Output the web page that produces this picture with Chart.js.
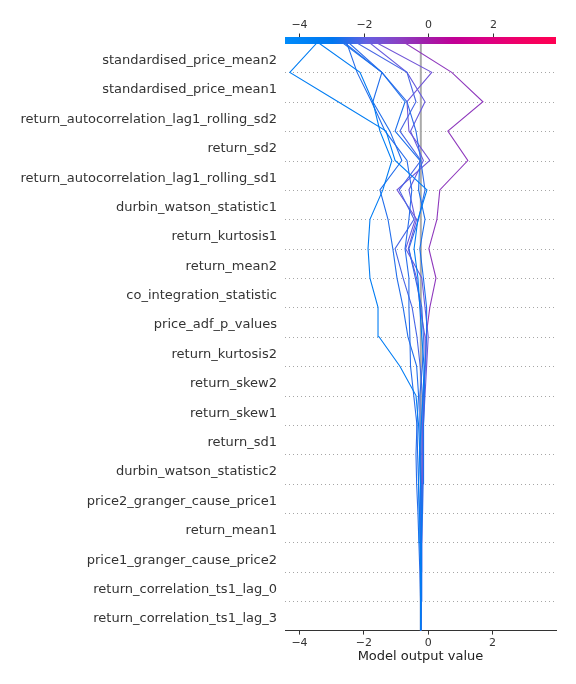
<!DOCTYPE html>
<html><head><meta charset="utf-8">
<script src="https://cdn.jsdelivr.net/npm/chart.js@4"></script>
<style>html,body{margin:0;padding:0;background:#fff}</style>
</head><body>
<div style="width:576px;height:684px"><canvas id="c" width="576" height="684"></canvas></div>
<script>
// Feature names, top to bottom
const featureNames = [
  "standardised_price_mean2",
  "standardised_price_mean1",
  "return_autocorrelation_lag1_rolling_sd2",
  "return_sd2",
  "return_autocorrelation_lag1_rolling_sd1",
  "durbin_watson_statistic1",
  "return_kurtosis1",
  "return_mean2",
  "co_integration_statistic",
  "price_adf_p_values",
  "return_kurtosis2",
  "return_skew2",
  "return_skew1",
  "return_sd1",
  "durbin_watson_statistic2",
  "price2_granger_cause_price1",
  "return_mean1",
  "price1_granger_cause_price2",
  "return_correlation_ts1_lag_0",
  "return_correlation_ts1_lag_3"
];
const baseValue = -0.23;
const xTicks = [-4, -2, 0, 2];
const xMin = -4.45, xMax = 3.97;

// Cumulative model output, from the base value (bottom) up to the prediction (top)
const lineA = [-0.23,-0.23,-0.24,-0.26,-0.28,-0.30,-0.27,-0.22,-0.16,-0.13,-0.20,-0.26,-0.32,-0.44,-0.32,-0.04,-1.03,-1.31,-2.80,-4.30,-3.46];
const lineB = [-0.23,-0.23,-0.22,-0.21,-0.22,-0.24,-0.26,-0.30,-0.38,-0.88,-1.53,-1.56,-1.81,-1.87,-1.81,-1.41,-1.13,-1.50,-1.72,-2.12,-3.40];
const lineC = [-0.23,-0.22,-0.21,-0.20,-0.18,-0.16,-0.15,-0.14,-0.12,-0.10,-0.05,-0.05,-0.15,-0.26,-0.10,-0.30,-0.26,-1.03,-0.72,-1.44,-2.65];
const lineD = [-0.23,-0.23,-0.24,-0.25,-0.27,-0.30,-0.33,-0.35,-0.30,-0.36,-0.63,-0.78,-0.97,-1.10,-1.25,-1.50,-0.82,-1.19,-1.72,-1.44,-2.59];
const lineE = [-0.23,-0.24,-0.26,-0.29,-0.32,-0.36,-0.38,-0.35,-0.45,-0.55,-0.57,-0.60,-0.60,-0.72,-0.60,-0.51,-0.66,-1.34,-1.76,-2.21,-2.53];
const lineF = [-0.23,-0.23,-0.22,-0.22,-0.21,-0.22,-0.24,-0.26,-0.26,-0.18,-0.15,-0.20,-0.40,-0.60,-0.30,-0.10,-0.23,-0.38,-0.66,-1.44,-2.46];
const lineG = [-0.23,-0.23,-0.23,-0.24,-0.24,-0.25,-0.22,-0.20,-0.18,-0.25,-0.35,-0.50,-0.78,-1.03,-0.44,-0.90,-0.23,-0.88,-0.38,-0.66,-2.21];
const lineH = [-0.23,-0.22,-0.21,-0.20,-0.19,-0.18,-0.17,-0.15,-0.10,-0.05,0.00,-0.10,-0.20,-0.70,-0.40,-0.60,-0.15,-0.55,-0.10,-0.66,-1.81];
const lineI = [-0.23,-0.23,-0.22,-0.21,-0.20,-0.19,-0.18,-0.17,-0.15,-0.10,-0.10,-0.25,-0.36,-0.62,-0.36,-0.97,0.05,-0.60,-0.66,0.11,-1.59];
const lineJ = [-0.23,-0.23,-0.23,-0.22,-0.21,-0.20,-0.18,-0.16,-0.13,-0.10,-0.07,0.05,0.24,0.02,0.27,0.36,1.23,0.61,1.70,0.73,-0.72];
const allLines = [lineA, lineB, lineC, lineD, lineE, lineF, lineG, lineH, lineI, lineJ];

// red-blue colour map
const cmapStops = [
  [0, [0,139,250]], [0.18, [0,118,240]], [0.3, [100,95,225]], [0.42, [138,65,195]],
  [0.52, [160,30,170]], [0.62, [192,0,150]], [0.75, [220,0,130]], [0.88, [242,0,100]], [1, [255,0,82]]
];
function cmap(t) {
  t = Math.max(0, Math.min(1, t));
  for (let i = 1; i < cmapStops.length; i++) {
    const [t1, c1] = cmapStops[i];
    const [t0, c0] = cmapStops[i-1];
    if (t <= t1) {
      const f = (t - t0) / (t1 - t0);
      const c = c0.map((v, k) => Math.round(v + (c1[k] - v) * f));
      return `rgb(${c[0]},${c[1]},${c[2]})`;
    }
  }
  return 'rgb(255,0,82)';
}
const fmt = v => (v < 0 ? '\u2212' : '') + Math.abs(v);
const N = featureNames.length;

const decor = {
  id: 'decor',
  beforeDatasetsDraw(chart) {
    const ctx = chart.ctx, ca = chart.chartArea, xs = chart.scales.x, ys = chart.scales.y;
    ctx.save();
    ctx.strokeStyle = 'rgba(136,136,136,0.75)';
    ctx.lineWidth = 1;
    ctx.setLineDash([1, 3]);
    for (let i = 1; i < N; i++) {
      const y = Math.round(ys.getPixelForValue(i)) + 0.5;
      ctx.beginPath(); ctx.moveTo(ca.left, y); ctx.lineTo(ca.right, y); ctx.stroke();
    }
    ctx.setLineDash([]);
    ctx.strokeStyle = '#aaaaaa';
    ctx.lineWidth = 2;
    const bx = xs.getPixelForValue(baseValue);
    ctx.beginPath(); ctx.moveTo(bx, ca.top); ctx.lineTo(bx, ca.bottom); ctx.stroke();
    ctx.restore();
  },
  afterDraw(chart) {
    const ctx = chart.ctx, ca = chart.chartArea, xs = chart.scales.x;
    ctx.save();
    const top = ca.top - 6, h = 7;
    const g = ctx.createLinearGradient(ca.left, 0, ca.right, 0);
    for (let i = 0; i <= 40; i++) g.addColorStop(i / 40, cmap(i / 40));
    ctx.fillStyle = g;
    ctx.fillRect(ca.left, top, ca.right - ca.left, h);
    ctx.strokeStyle = '#333';
    ctx.lineWidth = 1;
    ctx.fillStyle = '#333';
    ctx.font = '11px "DejaVu Sans"';
    ctx.textAlign = 'center';
    ctx.textBaseline = 'middle';
    xTicks.forEach(v => {
      const x = Math.round(xs.getPixelForValue(v)) + 0.5;
      ctx.beginPath(); ctx.moveTo(x, top); ctx.lineTo(x, top - 3.5); ctx.stroke();
      ctx.fillText(fmt(v), x, top - 12);
    });
    ctx.restore();
  }
};

new Chart(document.getElementById('c'), {
  type: 'scatter',
  data: {
    datasets: allLines.map(vals => ({
      data: vals.map((v, i) => ({x: v, y: i})),
      showLine: true,
      borderColor: cmap((vals[vals.length - 1] - xMin) / (xMax - xMin)),
      borderWidth: 1.1,
      pointRadius: 0,
      pointHoverRadius: 0,
      fill: false,
      tension: 0
    }))
  },
  options: {
    responsive: false,
    animation: false,
    events: [],
    layout: {padding: {top: 43, right: 20, left: 0, bottom: 12}},
    plugins: {legend: {display: false}, tooltip: {enabled: false}},
    scales: {
      x: {
        type: 'linear', min: xMin, max: xMax,
        afterBuildTicks: s => { s.ticks = xTicks.map(v => ({value: v})); },
        ticks: {callback: v => fmt(v), font: {size: 11, family: 'DejaVu Sans', lineHeight: 1.0}, color: '#333', padding: 3, maxRotation: 0},
        grid: {display: true, drawOnChartArea: false, drawTicks: true, tickLength: 4, color: '#333'},
        border: {display: true, color: '#333', width: 1},
        title: {display: true, text: 'Model output value', font: {size: 13, family: 'DejaVu Sans', lineHeight: 0.8}, color: '#222', padding: {top: 0, bottom: 10}}
      },
      y: {
        type: 'linear', min: 0, max: N,
        afterBuildTicks: s => { s.ticks = featureNames.map((n, i) => ({value: N - 1 - i + 0.5})); },
        afterFit: s => { s.width = 285; },
        ticks: {autoSkip: false, callback: v => featureNames[N - 1 - Math.floor(v)], font: {size: 13, family: 'DejaVu Sans'}, color: '#333', padding: 8, labelOffset: 3},
        grid: {display: false, drawTicks: false},
        border: {display: false}
      }
    }
  },
  plugins: [decor]
});
</script>
</body></html>
